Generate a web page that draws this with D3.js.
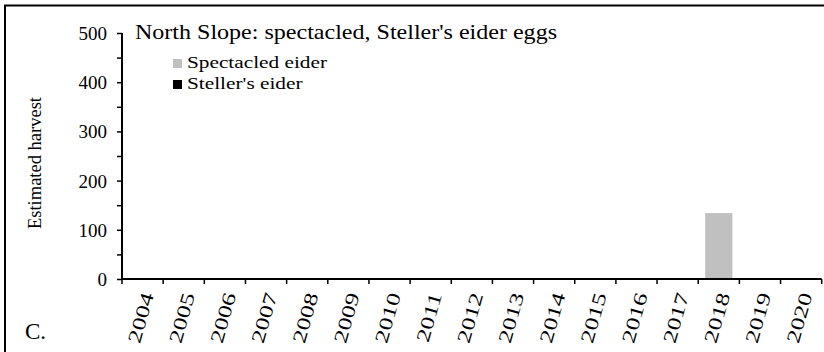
<!DOCTYPE html>
<html><head><meta charset="utf-8">
<script src="https://cdn.jsdelivr.net/npm/d3@7"></script>
<style>html,body{margin:0;padding:0;background:#fff;}svg{display:block;} text{font-family:"Liberation Serif","Times New Roman",serif;}</style>
</head><body>
<svg id="c" width="824" height="352"></svg>
<script>
const years = ["2004","2005","2006","2007","2008","2009","2010","2011","2012","2013","2014","2015","2016","2017","2018","2019","2020"];
const spectacled = [0,0,0,0,0,0,0,0,0,0,0,0,0,0,134,0,0];
const stellers = [0,0,0,0,0,0,0,0,0,0,0,0,0,0,0,0,0];
const yTicks = [0,100,200,300,400,500];
const seriesNames = ["Spectacled eider","Steller's eider"];
const seriesColors = ["#c0c0c0","#000000"];
const titleText = "North Slope: spectacled, Steller's eider eggs";
const yTitle = "Estimated harvest";
const panelLabel = "C.";

const svg = d3.select("#c");
svg.append("rect").attr("x",5).attr("y",5.5).attr("width",830).attr("height",360)
  .attr("fill","none").attr("stroke","#000").attr("stroke-width",2);

const x = d3.scaleBand().domain(years).range([122,821.7]).paddingInner(0.34).paddingOuter(0.17);
const y = d3.scaleLinear().domain([0,500]).range([279,33]);

const g = svg.append("g");
g.selectAll("rect.sp").data(years).join("rect").attr("class","sp")
  .attr("x",d=>x(d)).attr("width",x.bandwidth())
  .attr("y",(d,i)=>y(spectacled[i])).attr("height",(d,i)=>y(0)-y(spectacled[i]))
  .attr("fill",seriesColors[0]);
g.selectAll("rect.st").data(years).join("rect").attr("class","st")
  .attr("x",d=>x(d)).attr("width",x.bandwidth())
  .attr("y",(d,i)=>y(spectacled[i]+stellers[i])).attr("height",(d,i)=>y(0)-y(stellers[i]))
  .attr("fill",seriesColors[1]);

const yAxis = d3.axisLeft(y).tickValues(d3.range(0,501,50)).tickSize(5).tickFormat(d=>yTicks.includes(d)?d:"");
const ya = svg.append("g").attr("transform","translate(122,0)").call(yAxis);
ya.attr("font-family",null);
ya.select(".domain").attr("stroke-width",2).attr("d","M0,"+y(500)+"V"+y(0));
ya.selectAll(".tick line").attr("stroke-width",1.5);
ya.selectAll(".tick text").attr("font-size",19).attr("fill","#000")
  .attr("x",-15).attr("dy","0.34em");

const xa = svg.append("g").attr("transform","translate(0,279)");
xa.append("line").attr("x1",122).attr("x2",821.7).attr("y1",0).attr("y2",0).attr("stroke","#000").attr("stroke-width",2);
const edges = d3.range(years.length+1).map(i=>x.range()[0] + i*(x.range()[1]-x.range()[0])/years.length);
xa.selectAll("line.t").data(edges).join("line").attr("class","t")
  .attr("x1",d=>d).attr("x2",d=>d).attr("y1",0).attr("y2",5).attr("stroke","#000").attr("stroke-width",1.5);
xa.selectAll("text").data(years).join("text")
  .attr("transform",d=>`translate(${x(d)+x.bandwidth()/2+5},${14}) rotate(-74) scale(1.35,1)`)
  .attr("text-anchor","end").attr("dy","0.35em")
  .attr("font-size",19).text(d=>d);

svg.append("text").attr("x",135).attr("y",39).attr("font-size",21)
  .attr("textLength",422).attr("lengthAdjust","spacingAndGlyphs").text(titleText);

const legW = [140, 121];
const leg = svg.append("g");
seriesNames.forEach((n,i)=>{
  leg.append("rect").attr("x",173).attr("y",59+i*21).attr("width",9).attr("height",9).attr("fill",seriesColors[i]);
  leg.append("text").attr("x",187).attr("y",68+i*21).attr("font-size",17).text(n);
});
// stretch legend labels horizontally like the reference
const base = leg.select("text").node().getComputedTextLength();
leg.selectAll("text").each(function(){
  const w = this.getComputedTextLength();
  d3.select(this).attr("textLength", (w*140/base).toFixed(1)).attr("lengthAdjust","spacingAndGlyphs");
});

svg.append("text").attr("transform","translate(41,163) rotate(-90)").attr("text-anchor","middle")
  .attr("font-size",18.5).text(yTitle);

svg.append("text").attr("x",25).attr("y",339).attr("font-size",23).text(panelLabel);
</script>
</body></html>
